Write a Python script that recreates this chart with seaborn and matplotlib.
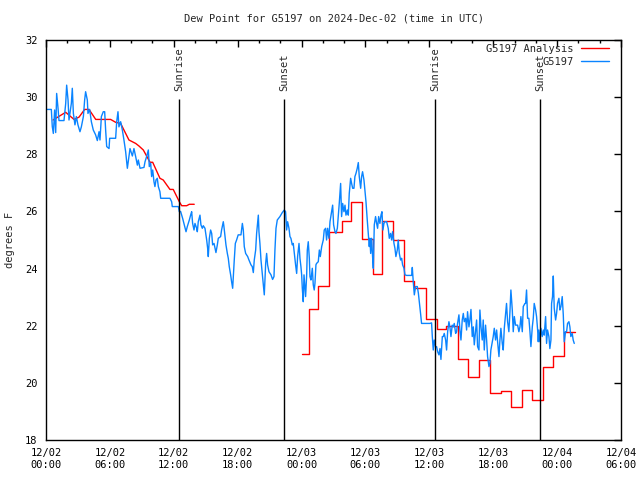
import pandas as pd
import matplotlib
matplotlib.use("Agg")
import matplotlib.pyplot as plt
import matplotlib.dates as mdates
import seaborn as sns

sns.set_style("white")
plt.rcParams['font.family'] = ['DejaVu Sans Mono', 'DejaVu Sans']
plt.rcParams['font.size'] = 7.5

base = pd.Timestamp("2024-12-02 00:00")

# station observations (hours after 12/02 00:00 UTC, dew point F)
obs_hours = [
    0.13, 0.50, 0.59, 0.69, 0.81, 0.91, 1.00, 1.13, 1.22, 1.69, 1.85, 1.94, 2.07, 2.16, 2.38, 2.47,
    2.57, 2.72, 2.85, 3.00, 3.19, 3.32, 3.51, 3.63, 3.72, 3.88, 3.94, 4.10, 4.26, 4.44, 4.66, 4.82,
    4.98, 5.07, 5.20, 5.38, 5.51, 5.60, 5.70, 5.92, 5.98, 6.54, 6.64, 6.76, 6.85, 7.01, 7.17, 7.32,
    7.48, 7.64, 7.89, 8.11, 8.26, 8.42, 8.58, 8.67, 8.83, 9.20,
    9.30, 9.45, 9.61, 9.70, 9.83, 9.92, 10.02, 10.14, 10.23, 10.33, 10.45, 10.55, 10.70, 10.77,
    11.64, 11.80, 11.86, 12.43, 12.52, 12.64, 12.83, 12.99, 13.15, 13.27, 13.46, 13.58, 13.68,
    13.77, 13.90, 13.99, 14.15, 14.21, 14.30, 14.46, 14.55, 14.68, 14.77, 14.93, 15.09, 15.18,
    15.24, 15.34, 15.46, 15.56, 15.65, 15.78, 15.87, 15.96, 16.09, 16.18, 16.40, 16.49, 16.65,
    16.71, 16.81, 16.90, 17.03, 17.12, 17.21, 17.34, 17.43, 17.53, 17.59, 17.68, 17.78, 17.90,
    18.05, 18.22,
    18.31, 18.44, 18.53, 18.62, 18.75, 18.94, 19.06, 19.25, 19.37, 19.47, 19.56, 19.69, 19.78,
    19.94, 20.00, 20.09, 20.19, 20.31, 20.41, 20.50, 20.63, 20.72, 20.81, 20.94, 21.13, 21.28,
    21.41, 21.50, 21.60, 21.72, 21.97, 22.19, 22.38, 22.50, 22.60, 22.69, 22.82, 22.91, 23.00,
    23.13, 23.22, 23.32, 23.44, 23.54, 23.63, 23.76, 23.85, 23.94, 24.01, 24.07, 24.16, 24.23,
    24.32, 24.38, 24.48, 24.54, 24.63, 24.73, 24.79, 24.88, 25.01, 25.10, 25.19, 25.26, 25.35,
    25.41, 25.57, 25.67, 25.76, 25.89, 26.04, 26.13, 26.26, 26.35, 26.45, 26.57, 26.67, 26.82,
    26.92, 27.01, 27.14,
    27.23, 27.36, 27.54, 27.67, 27.76, 27.86, 27.98, 28.08, 28.17, 28.30, 28.39, 28.48, 28.61,
    28.70, 28.80, 28.92, 29.01, 29.11, 29.23, 29.33, 29.42, 29.55, 29.64, 29.73, 29.86, 29.95,
    30.05, 30.17, 30.27, 30.36, 30.42, 30.49, 30.58, 30.67, 30.74, 30.83, 30.95, 31.05, 31.14,
    31.24, 31.36, 31.46, 31.55, 31.64, 31.74, 31.83, 31.99, 32.14, 32.24, 32.36, 32.46, 32.55,
    32.68, 32.77, 32.86, 32.99, 33.08, 33.18, 33.30, 33.40, 33.49, 33.62, 33.71, 33.87, 34.34,
    34.40, 34.49, 34.59, 34.71, 34.87, 34.97, 35.06, 35.19, 35.27, 35.59, 36.06,
    36.21, 36.28, 36.37, 36.46, 36.59, 36.68, 36.78, 36.90, 37.00, 37.09, 37.22, 37.31, 37.40,
    37.53, 37.62, 37.72, 37.84, 37.93, 38.03, 38.15, 38.25, 38.34, 38.47, 38.56, 38.65, 38.78,
    38.87, 38.97, 39.09, 39.19, 39.28, 39.41, 39.50, 39.59, 39.72, 39.81, 39.91, 40.03, 40.13,
    40.22, 40.35, 40.44, 40.53, 40.66, 40.75, 40.85, 40.97, 41.06, 41.16, 41.28, 41.38, 41.47,
    41.60, 41.69, 41.78, 41.91, 42.00, 42.10, 42.22, 42.32, 42.41, 42.54, 42.63, 42.72, 42.85,
    42.94, 43.04, 43.16, 43.25, 43.35, 43.47, 43.57, 43.66, 43.79, 43.88, 43.98, 44.10, 44.29,
    44.41, 44.51, 44.60, 44.73, 44.82, 44.98,
    45.04, 45.13, 45.23, 45.35, 45.45, 45.54, 45.67, 45.76, 45.85, 45.98, 46.07, 46.17, 46.23,
    46.29, 46.38, 46.48, 46.60, 46.70, 46.79, 46.92, 47.01, 47.10, 47.23, 47.32, 47.42, 47.48,
    47.57, 47.64, 47.73, 47.86, 47.95, 48.04, 48.17, 48.26, 48.36, 48.48, 48.58, 48.67, 48.79,
    48.89, 48.98, 49.11, 49.20, 49.29, 49.42, 49.51, 49.61,
]
obs_dewpt = [
    29.57, 29.57, 28.97, 28.73, 29.55, 28.76, 30.13, 29.61, 29.18, 29.18, 29.78, 30.42, 29.90, 29.20, 29.78, 30.31,
    29.43, 29.03, 29.32, 29.03, 28.79, 28.96, 29.32, 29.90, 30.19, 29.90, 29.43, 29.57, 29.14, 28.85, 28.68, 28.48,
    28.79, 28.50, 29.32, 29.49, 29.49, 28.85, 28.27, 28.20, 28.56, 28.56, 29.14, 29.49, 28.96, 29.14, 28.85, 28.50,
    28.09, 27.51, 28.20, 27.94, 28.20, 27.92, 27.62, 27.80, 27.51, 27.54,
    27.74, 27.92, 28.15, 27.57, 27.69, 27.22, 27.45, 27.04, 26.87, 27.10, 27.16, 26.87, 26.69, 26.46,
    26.46, 26.34, 26.17, 26.17, 25.99, 26.00, 25.76, 25.53, 25.29, 25.47, 25.70, 25.87, 25.99,
    25.58, 25.35, 25.58, 25.41, 25.29, 25.64, 25.87, 25.53, 25.41, 25.50, 25.41, 25.00, 24.71,
    24.42, 25.06, 25.35, 25.23, 24.83, 24.88, 24.71, 24.56, 24.83, 25.06, 25.12, 25.35, 25.64,
    25.47, 25.12, 24.83, 24.53, 24.36, 24.07, 23.78, 23.54, 23.31, 23.72, 24.30, 24.88, 25.00,
    25.18, 25.18,
    25.18, 25.58, 25.35, 24.77, 24.53, 24.42, 24.30, 24.13, 24.07, 23.86, 24.30, 24.65, 25.23,
    25.87, 25.29, 24.88, 24.30, 23.83, 23.43, 23.08, 24.18, 24.53, 24.13, 23.89, 23.78, 23.62,
    23.72, 24.65, 25.41, 25.70, 25.82, 25.96, 26.05, 25.99, 25.35, 25.64, 25.41, 25.12, 25.06,
    24.83, 24.88, 24.53, 24.13, 23.83, 24.42, 24.88, 24.36, 24.07, 23.78, 23.31, 22.84, 23.78,
    23.31, 23.02, 23.78, 24.65, 24.94, 24.36, 23.72, 23.60, 24.01, 23.43, 23.25, 23.49, 24.13,
    24.18, 24.24, 24.65, 24.42, 24.77, 25.00, 25.35, 25.41, 25.00, 25.41, 25.06, 25.64, 25.99,
    26.22, 25.53, 25.29,
    25.23, 25.41, 26.28, 26.98, 25.82, 26.28, 25.99, 26.22, 25.87, 26.05, 25.87, 26.63, 27.16,
    26.98, 26.81, 26.81, 27.22, 27.33, 27.51, 27.71, 27.22, 26.81, 27.22, 27.39, 27.10, 26.75,
    26.34, 25.70, 25.23, 24.77, 25.06, 24.53, 25.06, 24.42, 24.01, 25.53, 25.82, 25.58, 25.41,
    25.82, 25.58, 25.87, 25.99, 25.35, 25.58, 25.64, 25.64, 25.41, 25.06, 25.23, 25.00, 25.29,
    24.88, 24.71, 24.42, 24.65, 25.00, 24.53, 24.30, 24.36, 24.13, 24.01, 23.78, 23.76, 23.76,
    24.04, 23.54, 23.08, 23.37, 23.37, 23.14, 22.84, 22.38, 22.08, 22.08, 22.08,
    22.10, 21.62, 21.15, 21.50, 21.25, 21.27, 21.09, 20.98, 21.20, 20.82, 21.62, 21.62, 21.73,
    21.50, 21.15, 21.79, 22.14, 21.96, 21.62, 22.02, 21.96, 22.08, 21.73, 21.79, 22.08, 22.38,
    21.85, 21.50, 22.20, 22.43, 22.14, 22.26, 21.85, 22.49, 21.96, 22.20, 22.57, 21.62, 21.96,
    21.33, 21.85, 22.20, 21.27, 21.15, 22.55, 21.96, 21.50, 22.20, 21.15, 22.02, 21.50, 20.92,
    20.57, 20.69, 21.15, 21.44, 21.62, 21.91, 21.50, 21.85, 21.44, 20.92, 21.50, 21.91, 21.38,
    21.15, 21.91, 22.43, 22.78, 22.14, 21.79, 22.49, 23.25, 22.55, 21.79, 22.32, 22.02, 22.02,
    21.79, 21.96, 22.32, 21.79, 22.67, 22.78,
    22.78, 23.25, 22.26, 22.26, 21.79, 21.27, 21.96, 22.26, 22.78, 22.55, 22.32, 21.85, 21.44,
    21.85, 21.44, 21.91, 21.62, 21.85, 21.67, 22.32, 21.38, 21.85, 21.62, 21.20, 21.50, 22.78,
    23.02, 23.74, 22.61, 22.20, 22.43, 22.78, 22.96, 22.55, 22.67, 23.02, 22.38, 21.44, 21.79,
    21.79, 22.08, 22.14, 21.96, 21.62, 21.73, 21.50, 21.38,
]

# analysis, first run (line)
ana1_hours = [0.66, 1.85, 2.63, 3.10, 3.63, 4.04, 4.67, 6.07, 6.54, 7.01, 7.79, 8.42, 8.73,
              9.14, 9.77, 10.02, 10.70, 11.01, 11.64, 11.95, 12.52, 12.74, 13.21, 13.46, 13.92]
ana1_dewpt = [29.20, 29.47, 29.22, 29.30, 29.57, 29.57, 29.22, 29.22, 29.12, 29.08, 28.50, 28.38, 28.29,
              28.15, 27.72, 27.72, 27.16, 27.10, 26.77, 26.77, 26.34, 26.20, 26.20, 26.25, 26.25]

# analysis, second run (hourly steps)
ana2_hours = [24.07, 24.67, 25.57, 26.60, 27.76, 28.64, 29.64, 30.73, 31.60, 32.60, 33.60, 34.58,
              35.68, 36.70, 37.60, 38.70, 39.65, 40.66, 41.70, 42.70, 43.66, 44.67, 45.66, 46.64,
              47.63, 48.67, 49.67]
ana2_dewpt = [21.00, 22.57, 23.38, 25.29, 25.67, 26.34, 25.02, 23.81, 25.67, 25.00, 23.55, 23.31,
              22.22, 21.88, 21.99, 20.82, 20.22, 20.80, 19.63, 19.73, 19.14, 19.75, 19.40, 20.57,
              20.94, 21.77, 21.77]

sun_times = ["2024-12-02 12:31", "2024-12-02 22:23", "2024-12-03 12:32", "2024-12-03 22:24"]
sun_labels = ["Sunrise", "Sunset", "Sunrise", "Sunset"]

red = "#ff0000"
blue = "#0a84ff"


def to_time(hours):
    return base + pd.to_timedelta(hours, unit="h")


fig, ax = plt.subplots(figsize=(6.4, 4.8), dpi=100)
fig.subplots_adjust(left=46 / 640, right=621 / 640, top=1 - 40 / 480, bottom=1 - 440 / 480)

sns.lineplot(x=to_time(ana1_hours), y=ana1_dewpt, color=red, lw=1, ax=ax,
             estimator=None, sort=False, label="G5197 Analysis")
sns.lineplot(x=to_time(ana2_hours), y=ana2_dewpt, color=red, lw=1, ax=ax,
             estimator=None, sort=False, drawstyle="steps-post")
sns.lineplot(x=to_time(obs_hours), y=obs_dewpt, color=blue, lw=1, ax=ax,
             estimator=None, sort=False, label="G5197")

for t, lab in zip(sun_times, sun_labels):
    t = pd.Timestamp(t)
    ax.vlines(t, 18, 29.93, color="black", lw=1)
    ax.text(t, 30.2, lab, rotation=90, ha="center", va="bottom", fontsize=7.5)

ax.set_xlim(base, base + pd.Timedelta(hours=54))
ax.set_ylim(18, 32)
ax.set_yticks(range(18, 33, 2))
ax.xaxis.set_major_locator(mdates.HourLocator(byhour=[0, 6, 12, 18]))
ax.xaxis.set_minor_locator(mdates.HourLocator(interval=2))
ax.xaxis.set_major_formatter(mdates.DateFormatter("%m/%d\n%H:%M"))
ax.tick_params(which="both", direction="in", top=True, right=True, colors="black")
ax.tick_params(which="major", length=5, width=1)
ax.tick_params(which="minor", length=2.5, width=1)
ax.tick_params(axis="x", which="major", pad=6)
ax.tick_params(axis="y", which="major", pad=6)
for s in ax.spines.values():
    s.set_color("black")
    s.set_linewidth(1)

ax.set_xlabel("")
ax.set_ylabel("")
fig.text(0.016, 0.5, "degrees F", rotation=90, ha="center", va="center", fontsize=7.5)
ax.set_title("Dew Point for G5197 on 2024-Dec-02 (time in UTC)", fontsize=7.5, pad=13)

ax.legend(loc="upper right", bbox_to_anchor=(0.979, 0.99), frameon=False, markerfirst=False,
          borderpad=0, borderaxespad=0, handlelength=2.7, handletextpad=0.7, labelspacing=0.3)

fig.savefig("out.png", dpi=100)
